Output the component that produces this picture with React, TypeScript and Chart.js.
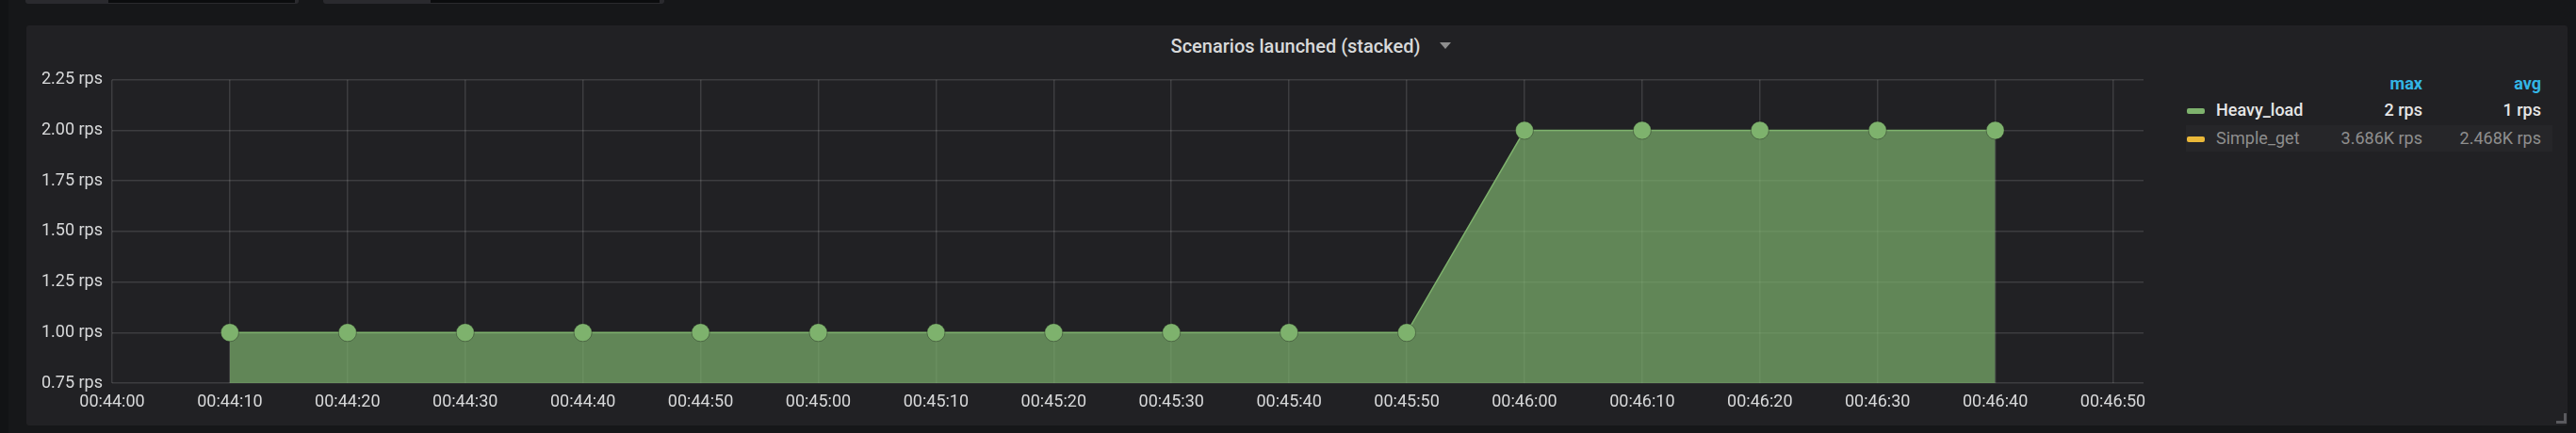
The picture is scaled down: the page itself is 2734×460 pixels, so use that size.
import React, { useEffect, useRef } from 'react';
import { Chart, registerables } from 'chart.js';

Chart.register(...registerables);

// ---- data ----
const pointTimes = [
  '00:44:10', '00:44:20', '00:44:30', '00:44:40', '00:44:50', '00:45:00',
  '00:45:10', '00:45:20', '00:45:30', '00:45:40', '00:45:50',
  '00:46:00', '00:46:10', '00:46:20', '00:46:30', '00:46:40',
];
const heavyLoadValues = [1, 1, 1, 1, 1, 1, 1, 1, 1, 1, 1, 2, 2, 2, 2, 2];
const xAxisStart = '00:44:00';
const xAxisEnd = '00:46:52.6';
const yAxisMin = 0.75;
const yAxisMax = 2.25;
const yAxisStep = 0.25;
const xAxisStep = 10;

const chartTitle = 'Scenarios launched (stacked)';
const legendNames = ['Heavy_load', 'Simple_get'];
const legendColors = ['#7EB26D', '#EAB839'];
const legendMax = ['2 rps', '3.686K rps'];
const legendAvg = ['1 rps', '2.468K rps'];
const legendHidden = [false, true];
const legendHeaders = ['max', 'avg'];

const toSec = (t: string) => {
  const [h, m, s] = t.split(':');
  return Number(h) * 3600 + Number(m) * 60 + Number(s);
};
const pad = (n: number) => String(Math.floor(n)).padStart(2, '0');
const fmtTime = (v: number) => `${pad(v / 3600)}:${pad((v % 3600) / 60)}:${pad(v % 60)}`;

const FONT = 'Roboto, "Helvetica Neue", Arial, sans-serif';

function ChartCanvas() {
  const ref = useRef<HTMLCanvasElement | null>(null);
  useEffect(() => {
    if (!ref.current) return;
    const chart = new Chart(ref.current, {
      type: 'line',
      data: {
        datasets: [
          {
            label: legendNames[0],
            data: pointTimes.map((t, i) => ({ x: toSec(t), y: heavyLoadValues[i] })),
            borderColor: '#7EB26D',
            borderWidth: 1.5,
            backgroundColor: 'rgba(126,178,109,0.7)',
            fill: 'origin',
            tension: 0,
            pointRadius: 9.5,
            pointBackgroundColor: '#7EB26D',
            pointBorderColor: 'rgba(20,20,20,0.35)',
            pointBorderWidth: 1,
          },
        ],
      },
      options: {
        animation: false,
        responsive: false,
        maintainAspectRatio: false,
        layout: { padding: { left: 0, right: 25, top: 12, bottom: 0 } },
        plugins: { legend: { display: false }, tooltip: { enabled: false }, title: { display: false } },
        scales: {
          x: {
            type: 'linear',
            min: toSec(xAxisStart),
            max: toSec(xAxisEnd),
            afterFit: (s: any) => { s.height = 38; },
            grid: { color: 'rgba(255,255,255,0.13)', lineWidth: 1.5, drawTicks: false },
            border: { display: false },
            ticks: {
              stepSize: xAxisStep,
              includeBounds: false,
              autoSkip: false,
              maxRotation: 0,
              padding: 10,
              color: '#d8d9da',
              font: { family: FONT, size: 18 },
              callback: (v: any) => fmtTime(Number(v)),
            },
          },
          y: {
            type: 'linear',
            min: yAxisMin,
            max: yAxisMax,
            afterFit: (s: any) => { s.width = 91; },
            grid: { color: 'rgba(255,255,255,0.13)', lineWidth: 1.5, drawTicks: false },
            border: { display: false },
            ticks: {
              stepSize: yAxisStep,
              padding: 10,
              color: '#d8d9da',
              font: { family: FONT, size: 18 },
              callback: (v: any) => `${Number(v).toFixed(2)} rps`,
            },
          },
        },
      },
    });
    return () => chart.destroy();
  }, []);
  return <canvas ref={ref} width={2272} height={381} style={{ position: 'absolute', left: 28, top: 64, width: 2272, height: 381 }} />;
}

export default function App() {
  return (
    <div style={{ position: 'absolute', left: 0, top: 0, width: 2734, height: 460, background: '#161719', overflow: 'hidden', fontFamily: FONT }}>
      <div style={{ position: 'absolute', left: 0, top: 0, width: 9, height: 460, background: '#121315' }} />
      {/* top remnants of previous row */}
      <div style={{ position: 'absolute', left: 27, top: 0, width: 290, height: 4, background: '#2a2a2e', borderRadius: '0 0 3px 3px' }}>
        <div style={{ position: 'absolute', left: 88, top: 0, width: 198, height: 3, background: '#0b0c0e' }} />
      </div>
      <div style={{ position: 'absolute', left: 343, top: 0, width: 362, height: 4, background: '#2a2a2e', borderRadius: '0 0 3px 3px' }}>
        <div style={{ position: 'absolute', left: 114, top: 0, width: 243, height: 3, background: '#0b0c0e' }} />
      </div>
      {/* panel */}
      <div style={{ position: 'absolute', left: 28, top: 27, width: 2697, height: 425, background: '#212124', borderRadius: 3 }} />
      <div style={{ position: 'absolute', left: 0, top: 36, width: 2750, textAlign: 'center', color: '#d8d9da', fontSize: 20, fontWeight: 500, lineHeight: '26px' }}>
        {chartTitle}
      </div>
      <div style={{ position: 'absolute', left: 1528, top: 45, width: 0, height: 0, borderLeft: '6px solid transparent', borderRight: '6px solid transparent', borderTop: '7px solid #8e8e8e' }} />
      <ChartCanvas />
      {/* legend */}
      <div style={{ position: 'absolute', left: 2320, top: 133, width: 389, height: 28, background: '#262629' }} />
      {legendHeaders.map((h, i) => (
        <div key={h} style={{ position: 'absolute', left: i === 0 ? 2471 : 2597, top: 77, width: 100, textAlign: 'right', color: '#33b5e5', fontSize: 18, fontWeight: 700, lineHeight: '24px' }}>{h}</div>
      ))}
      {legendNames.map((n, i) => {
        const cy = 117 + i * 30;
        const col = legendHidden[i] ? '#8e8e8e' : '#e6e6e6';
        return (
          <React.Fragment key={n}>
            <div style={{ position: 'absolute', left: 2321, top: cy - 2, width: 19, height: 6, borderRadius: 2, background: legendColors[i] }} />
            <div style={{ position: 'absolute', left: 2352, top: cy - 12, color: col, fontSize: 18, fontWeight: legendHidden[i] ? 400 : 500, lineHeight: '24px' }}>{n}</div>
            <div style={{ position: 'absolute', left: 2371, top: cy - 12, width: 200, textAlign: 'right', color: col, fontSize: 18, fontWeight: legendHidden[i] ? 400 : 500, lineHeight: '24px' }}>{legendMax[i]}</div>
            <div style={{ position: 'absolute', left: 2497, top: cy - 12, width: 200, textAlign: 'right', color: col, fontSize: 18, fontWeight: legendHidden[i] ? 400 : 500, lineHeight: '24px' }}>{legendAvg[i]}</div>
          </React.Fragment>
        );
      })}
      {/* resize handle */}
      <div style={{ position: 'absolute', left: 2713, top: 439, width: 8, height: 8, borderRight: '3px solid #5a5a5e', borderBottom: '3px solid #5a5a5e' }} />
    </div>
  );
}
